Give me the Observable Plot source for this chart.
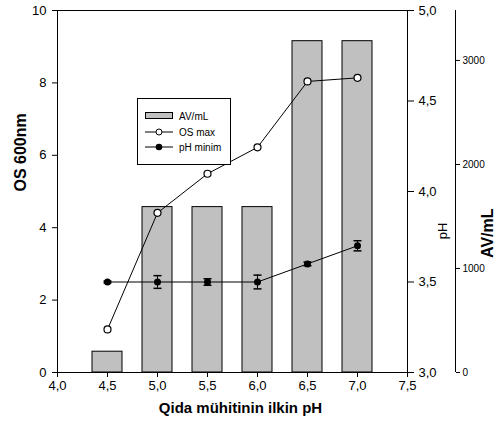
<!DOCTYPE html>
<html><head><meta charset="utf-8">
<script src="https://cdn.jsdelivr.net/npm/d3@7"></script>
<script src="https://cdn.jsdelivr.net/npm/@observablehq/plot@0.6"></script>
<style>
body{margin:0;background:#fff;}
#chart{position:relative;width:500px;height:444px;}
#legend{position:absolute;left:137px;top:98px;width:92px;height:65px;border:1px solid #000;background:#fff;font:10px "Liberation Sans",Arial,sans-serif;color:#000;}
#legend .row{position:absolute;left:7px;height:14px;display:flex;align-items:center;}
#legend svg{display:block;margin-right:6px;}
</style></head><body><div id="chart"></div>
<script>
const initialPH = [4.5, 5.0, 5.5, 6.0, 6.5, 7.0];
const avPerMl = [200, 1590, 1590, 1590, 3185, 3185];
const osMax = [1.19, 4.41, 5.49, 6.22, 8.04, 8.14];
const phMin = [3.50, 3.50, 3.50, 3.50, 3.60, 3.70];
const phErr = [0.005, 0.035, 0.018, 0.038, 0.01, 0.028];
const xTicks = [4.0, 4.5, 5.0, 5.5, 6.0, 6.5, 7.0, 7.5];
const osTicks = [0, 2, 4, 6, 8, 10];
const phTicks = [3.0, 3.5, 4.0, 4.5, 5.0];
const avTicks = [0, 1000, 2000, 3000];
const legendLabels = ["AV/mL", "OS max", "pH minim"];
const titleX = "Qida mühitinin ilkin pH";
const titleOS = "OS 600nm";
const titlePH = "pH";
const titleAV = "AV/mL";

const AV_MAX = 3480;
const PH_MIN = 3, PH_MAX = 5;
const avToY = v => v / AV_MAX * 10;
const phToY = p => (p - PH_MIN) / (PH_MAX - PH_MIN) * 10;
const comma = d => d.toFixed(1).replace(".", ",");

const rows = initialPH.map((x, i) => ({x, av: avPerMl[i], os: osMax[i], ph: phMin[i], err: phErr[i]}));
const BAR_HALF = 0.15;
const cap = {draw(ctx) { ctx.moveTo(-4, 0); ctx.lineTo(4, 0); }};
const FONT = '"Liberation Sans", Arial, sans-serif';

const plot = Plot.plot({
  width: 500, height: 444,
  marginLeft: 57, marginRight: 93, marginTop: 10, marginBottom: 72,
  style: {fontFamily: FONT, fontSize: "13px", background: "#fff", color: "#000", overflow: "visible"},
  x: {domain: [4, 7.5]},
  y: {domain: [0, 10]},
  marks: [
    Plot.rectY(rows, {x1: d => d.x - BAR_HALF, x2: d => d.x + BAR_HALF, y1: 0, y2: d => avToY(d.av), fill: "#c0c0c0", stroke: "#000", strokeWidth: 1}),
    Plot.frame({stroke: "#000"}),
    Plot.axisX(xTicks, {tickSize: 5, tickPadding: 3, tickFormat: comma, label: null}),
    Plot.axisY(osTicks, {anchor: "left", tickSize: 5, tickPadding: 6, tickFormat: d => String(d), label: null}),
    Plot.axisY(phTicks.map(phToY), {anchor: "right", tickSize: 6, tickPadding: 5, tickFormat: d => comma(PH_MIN + d / 10 * (PH_MAX - PH_MIN)), label: null}),
    Plot.axisY(avTicks.map(avToY), {anchor: "right", dx: 48, tickSize: 4, tickPadding: 3, fontSize: 10, tickFormat: d => String(Math.round(d / 10 * AV_MAX)), label: null}),
    Plot.ruleX([7.5], {dx: 48, stroke: "#000"}),
    Plot.line(rows, {x: "x", y: "os", stroke: "#000", strokeWidth: 1}),
    Plot.dot(rows, {x: "x", y: "os", r: 3.5, fill: "#fff", stroke: "#000", strokeWidth: 1.2}),
    Plot.ruleX(rows, {x: "x", y1: d => phToY(d.ph - d.err), y2: d => phToY(d.ph + d.err), stroke: "#000"}),
    Plot.dot(rows, {x: "x", y: d => phToY(d.ph - d.err), symbol: cap, stroke: "#000"}),
    Plot.dot(rows, {x: "x", y: d => phToY(d.ph + d.err), symbol: cap, stroke: "#000"}),
    Plot.line(rows, {x: "x", y: d => phToY(d.ph), stroke: "#000", strokeWidth: 1}),
    Plot.dot(rows, {x: "x", y: d => phToY(d.ph), r: 3.5, fill: "#000"}),
    Plot.text([titleOS], {frameAnchor: "left", dx: -37, rotate: -90, fontSize: 16, fontWeight: "bold"}),
    Plot.text([titlePH], {frameAnchor: "right", dx: 35, dy: 31, rotate: -90, fontSize: 13}),
    Plot.text([titleAV], {frameAnchor: "right", dx: 80, dy: 17, rotate: -90, fontSize: 16, fontWeight: "bold"}),
    Plot.text([titleX], {frameAnchor: "bottom", dx: 8, dy: 40, fontSize: 15, fontWeight: "bold"})
  ]
});
const chart = document.getElementById("chart");
chart.appendChild(plot);

// legend
const legend = document.createElement("div");
legend.id = "legend";
const swatches = [
  '<svg width="28" height="8"><rect x="0.5" y="0.5" width="27" height="6" fill="#c0c0c0" stroke="#000"/></svg>',
  '<svg width="28" height="8"><line x1="0" x2="28" y1="4" y2="4" stroke="#000"/><circle cx="14" cy="4" r="3" fill="#fff" stroke="#000"/></svg>',
  '<svg width="28" height="8"><line x1="0" x2="28" y1="4" y2="4" stroke="#000"/><circle cx="14" cy="4" r="3.3" fill="#000"/></svg>'
];
const rowTops = [10, 26, 41];
legendLabels.forEach((lab, i) => {
  const r = document.createElement("div");
  r.className = "row";
  r.style.top = rowTops[i] + "px";
  r.innerHTML = swatches[i] + "<span>" + lab + "</span>";
  legend.appendChild(r);
});
chart.appendChild(legend);
</script></body></html>
